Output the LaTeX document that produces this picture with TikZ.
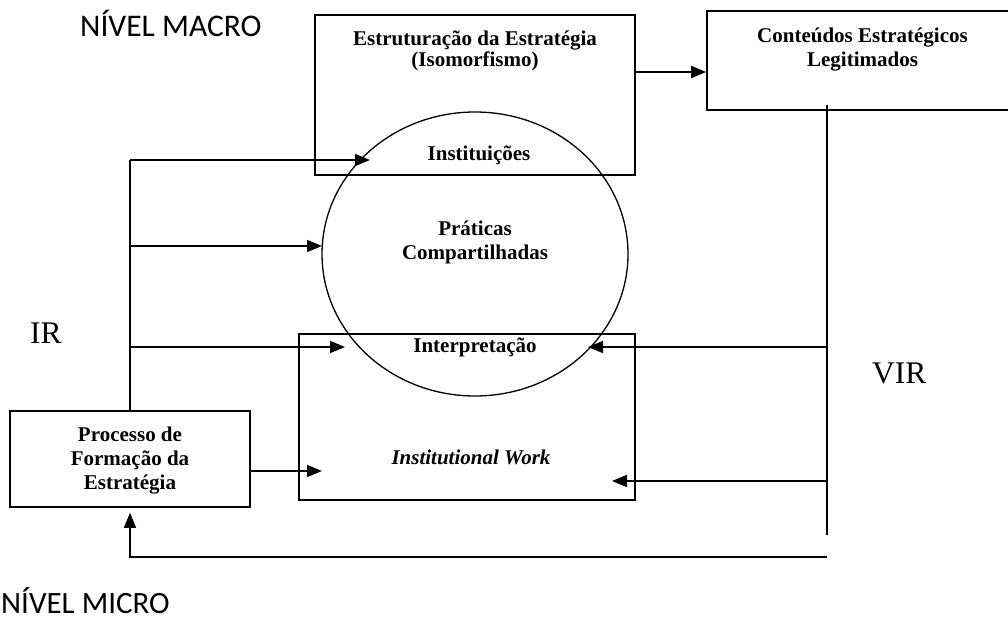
\documentclass[tikz,border=0pt]{standalone}
\usepackage{fontspec}
\setmainfont{Liberation Serif}
\newfontfamily\calibrifont{Carlito}
\usetikzlibrary{arrows.meta,shapes.geometric,calc}

\begin{document}
\begin{tikzpicture}[x=1pt,y=-1pt,>={Triangle[length=15pt,width=12pt]},
   box/.style={draw,line width=1.6pt,inner sep=0pt},
   lbl/.style={font=\fontsize{21}{24}\selectfont\bfseries,align=center,inner sep=0pt},
   lvl/.style={font=\calibrifont\fontsize{32}{36}\selectfont,inner sep=0pt,anchor=base west},
   big/.style={font=\fontsize{31.5}{36}\selectfont,inner sep=0pt,anchor=base west},
   ln/.style={line width=1.6pt}]
  \useasboundingbox (0,0) rectangle (1008,620);
  \clip (0,0) rectangle (1008,620);
  % boxes and circle
  \node[box,minimum width=320pt,minimum height=160pt] (E) at (475,95) {};
  \node[box,minimum width=304pt,minimum height=99pt] (C) at (859,60.5) {};
  \node[box,minimum width=336pt,minimum height=166pt] (W) at (467,417) {};
  \node[box,minimum width=240pt,minimum height=96pt] (P) at (130,459) {};
  \node[draw,ellipse,line width=1.3pt,minimum width=306pt,minimum height=284pt,inner sep=0pt] (S) at (475,254) {};
  % texts
  \node[lbl,font=\fontsize{21}{18.5}\selectfont\bfseries] (tE) at (475,51) {Estruturação da Estratégia\\(Isomorfismo)};
  \node[lbl] (tC) at (862.5,49.5) {Conteúdos Estratégicos\\Legitimados};
  \node[lbl,anchor=base] (tI) at (479,161) {Instituições};
  \node[lbl] (tS) at (475,242) {Práticas\\Compartilhadas};
  \node[lbl,anchor=base] (tT) at (475,352) {Interpretação};
  \node[lbl,anchor=base,font=\fontsize{21}{24}\selectfont\bfseries\itshape] (tW) at (471,464) {Institutional Work};
  \node[lbl] (tP) at (130,461) {Processo de\\Formação da\\Estratégia};
  \node[lvl,font=\calibrifont\fontsize{31.5}{36}\selectfont] (macro) at (80,36.7) {NÍVEL MACRO};
  \node[lvl,font=\calibrifont\fontsize{31}{36}\selectfont] (micro) at (1,613) {NÍVEL MICRO};
  \node[big] (ir) at (30,343) {IR};
  \node[big] (vir) at (872,383) {VIR};
  % IR side
  \coordinate (jI) at (130,160);
  \coordinate (jS) at (130,246);
  \coordinate (jT) at (130,347);
  \coordinate (aI) at (370,160);
  \coordinate (aS) at (322,246);
  \coordinate (aT) at (345,347);
  \coordinate (aW) at (322,471);
  \draw[ln] (P.north) -- (jI);
  \draw[ln,->] (jI) -- (aI);
  \draw[ln,->] (jS) -- (aS);
  \draw[ln,->] (jT) -- (aT);
  \draw[ln,->] (aW -| P.east) -- (aW);
  % VIR side
  \coordinate (vT) at (827,105);
  \coordinate (vB) at (827,535);
  \coordinate (rT) at (827,347);
  \coordinate (rW) at (827,481);
  \coordinate (bR) at (827,557);
  \draw[ln] (vT) -- (vB);
  \draw[ln,->] (rT) -- (588,347);
  \draw[ln,->] (rW) -- (612,481);
  \draw[ln,->] (bR) -| ([yshift=-5pt]P.south);
  % macro link
  \coordinate (aEC) at (635,72);
  \draw[ln,->] (aEC -| E.east) -- (aEC -| C.west);
\end{tikzpicture}
\end{document}
